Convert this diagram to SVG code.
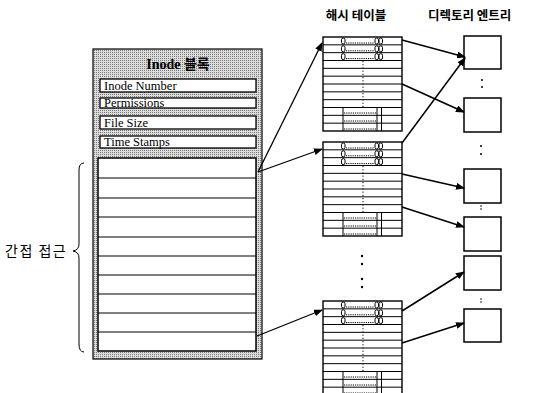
<svg xmlns="http://www.w3.org/2000/svg" xmlns:xlink="http://www.w3.org/1999/xlink" width="533" height="393" viewBox="0 0 533 393">
<style>
.kr{font-family:"Noto Sans CJK KR","Noto Sans",sans-serif;fill:#000}
.sf{font-family:"Liberation Serif","Noto Sans CJK KR",serif;fill:#000}
.ln{stroke:#000;fill:none}
.conn line{stroke:#000;stroke-width:1.5;marker-end:url(#ah)}
.dir rect{fill:#fff;stroke:#000;stroke-width:1.5}
.fld{fill:#fff;stroke:#000;stroke-width:1.3}
.dot{fill:#000}
</style>
<defs>
<pattern id="hatch" width="2" height="2" patternUnits="userSpaceOnUse">
<rect width="2" height="2" fill="#dcdcdc"/>
<rect width="1" height="1" fill="#7a7a7a"/>
</pattern>
<marker id="ah" markerWidth="9" markerHeight="7" refX="8" refY="3.5" orient="auto" markerUnits="userSpaceOnUse">
<path d="M0,0 L9,3.5 L0,7 z" fill="#000"/>
</marker>
<g id="table">
<rect x="0" y="0" width="79" height="94" fill="#fff" stroke="#000" stroke-width="1.4"/>
<g class="ln" stroke-width="1">
<path d="M0,7.83H79M0,15.67H79M0,23.5H79M0,31.33H79M0,39.17H79M0,47H79M0,54.83H79M0,62.67H79M0,70.5H79M0,78.33H79M0,86.17H79"/>
<rect x="18.5" y="1" width="3.5" height="6" rx="1.7"/>
<rect x="18.5" y="8.8" width="3.5" height="6" rx="1.7"/>
<rect x="18.5" y="16.6" width="3.5" height="6" rx="1.7"/>
<rect x="52" y="1" width="3.5" height="6" rx="1.7"/>
<rect x="52" y="8.8" width="3.5" height="6" rx="1.7"/>
<rect x="52" y="16.6" width="3.5" height="6" rx="1.7"/>
<rect x="56" y="1" width="3.5" height="6" rx="1.7"/>
<rect x="56" y="8.8" width="3.5" height="6" rx="1.7"/>
<rect x="56" y="16.6" width="3.5" height="6" rx="1.7"/>
<path d="M23,6H51M23,13.8H51M23,21.6H51" stroke-dasharray="1.2 1"/>
<path d="M40,24V70" stroke-dasharray="1.2 2"/>
<path d="M20,70.5V94M54,70.5V94M58.5,70.5V94"/>
<path d="M21,76H53M21,84H53M21,92H53" stroke-dasharray="1.2 1"/>
</g>
</g>
</defs>
<rect width="533" height="393" fill="#fff"/>

<g id="headers">
<text class="kr" x="356" y="20" font-size="12.5" font-weight="bold" text-anchor="middle">해시 테이블</text>
<text class="kr" x="428" y="20" font-size="12.5" font-weight="bold">디렉토리 엔트리</text>
</g>

<g id="inode">
<rect x="93" y="49" width="169" height="310" fill="url(#hatch)" stroke="#000" stroke-width="1.2"/>
<text class="sf" x="178" y="69" font-size="14" font-weight="bold" text-anchor="middle">Inode 블록</text>
<rect class="fld" x="100" y="79" width="156" height="13"/>
<text class="sf" x="104" y="90" font-size="12.5">Inode Number</text>
<rect class="fld" x="100" y="98" width="156" height="10"/>
<text class="sf" x="104" y="107" font-size="12.5">Permissions</text>
<rect class="fld" x="100" y="116" width="156" height="13"/>
<text class="sf" x="104" y="127" font-size="12.5">File Size</text>
<rect class="fld" x="100" y="136" width="156" height="12"/>
<text class="sf" x="104" y="146" font-size="12.5">Time Stamps</text>
<rect x="98" y="158" width="158" height="193" fill="#fff" stroke="#000" stroke-width="1.5"/>
<path class="ln" stroke-width="1.2" d="M98,178H256M98,198H256M98,217H256M98,237H256M98,256H256M98,275H256M98,294H256M98,313H256M98,332H256"/>
</g>

<g id="indirect-label">
<path class="ln" stroke-width="1" d="M84,163 Q79,163 79,170 V244 Q79,250 73,251 Q79,252 79,258 V344 Q79,352 84,352"/>
<text class="kr" x="5" y="256" font-size="14" letter-spacing="1.5">간접 접근</text>
</g>

<g id="hash1"><use xlink:href="#table" x="323" y="37"/></g>
<g id="hash2"><use xlink:href="#table" x="323" y="142"/></g>
<g id="hash-dots">
<circle class="dot" cx="362" cy="256" r="1.2"/>
<circle class="dot" cx="362" cy="264" r="1.2"/>
<circle class="dot" cx="362" cy="279" r="1.2"/>
<circle class="dot" cx="362" cy="287" r="1.2"/>
</g>
<g id="hash3"><use xlink:href="#table" x="323" y="301"/></g>

<g class="dir">
<g id="dir1"><rect x="464" y="36" width="37" height="33"/></g>
<g id="dir2"><rect x="464" y="98" width="37" height="34"/></g>
<g id="dir3"><rect x="464" y="169" width="37" height="34"/></g>
<g id="dir4"><rect x="464" y="217" width="37" height="34"/></g>
<g id="dir5"><rect x="464" y="256" width="37" height="34"/></g>
<g id="dir6"><rect x="464" y="309" width="37" height="33"/></g>
</g>
<g id="dir-dots">
<circle class="dot" cx="482" cy="80" r="1"/>
<circle class="dot" cx="482" cy="87" r="1"/>
<circle class="dot" cx="481" cy="146" r="1"/>
<circle class="dot" cx="481" cy="154" r="1"/>
<circle class="dot" cx="481" cy="206" r="0.8"/>
<circle class="dot" cx="481" cy="209" r="0.8"/>
<circle class="dot" cx="481" cy="299" r="0.8"/>
<circle class="dot" cx="481" cy="302" r="0.8"/>
</g>

<g id="connectors" class="conn">
<line x1="258" y1="172" x2="322" y2="43" style="stroke-width:1.3"/>
<line x1="258" y1="172" x2="322" y2="149" style="stroke-width:1.3"/>
<line x1="257" y1="336" x2="322" y2="310" style="stroke-width:1.3"/>
<line x1="402" y1="40" x2="465" y2="57"/>
<line x1="402" y1="84" x2="464" y2="112"/>
<line x1="402" y1="143" x2="465" y2="58"/>
<line x1="402" y1="174" x2="464" y2="188"/>
<line x1="402" y1="207" x2="464" y2="227"/>
<line x1="402" y1="311" x2="464" y2="272"/>
<line x1="402" y1="343" x2="464" y2="323"/>
</g>
</svg>
